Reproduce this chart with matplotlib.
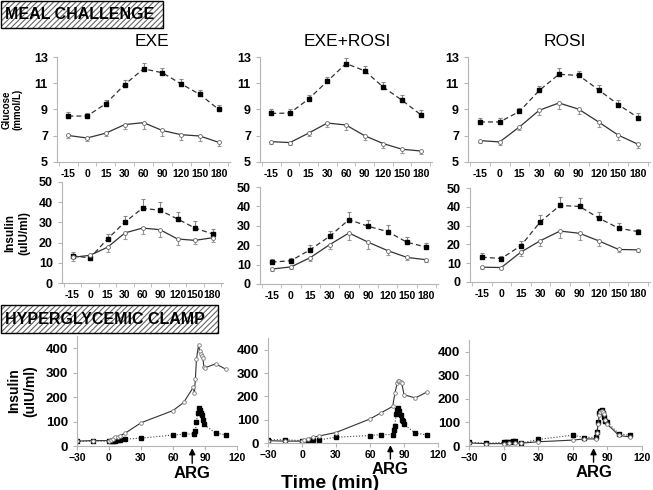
import numpy as np
import matplotlib
matplotlib.use('Agg')
import matplotlib.pyplot as plt
from matplotlib.patches import Rectangle

plt.rcParams['font.family'] = ['Liberation Sans', 'DejaVu Sans']
plt.rcParams['hatch.linewidth'] = 0.8

# meal challenge time points (categorical axis)
meal_times = ['-15', '0', '15', '30', '60', '90', '120', '150', '180']
groups = ['EXE', 'EXE+ROSI', 'ROSI']

# glucose (mmol/L): dashed = baseline, solid = treatment
glu_base = {
    'EXE':      [8.5, 8.5, 9.45, 10.9, 12.1, 11.8, 10.95, 10.15, 9.0],
    'EXE+ROSI': [8.7, 8.73, 9.8, 11.15, 12.5, 11.95, 10.7, 9.7, 8.6],
    'ROSI':     [8.05, 8.05, 8.85, 10.45, 11.68, 11.6, 10.5, 9.37, 8.38],
}
glu_base_err = {
    'EXE':      [0.28, 0.25, 0.3, 0.35, 0.45, 0.35, 0.4, 0.35, 0.35],
    'EXE+ROSI': [0.3, 0.28, 0.3, 0.35, 0.4, 0.35, 0.4, 0.4, 0.35],
    'ROSI':     [0.3, 0.3, 0.3, 0.35, 0.45, 0.35, 0.35, 0.35, 0.35],
}
glu_treat = {
    'EXE':      [7.02, 6.83, 7.2, 7.85, 8.0, 7.4, 7.08, 6.98, 6.5],
    'EXE+ROSI': [6.55, 6.48, 7.2, 7.97, 7.82, 7.0, 6.4, 5.97, 5.84],
    'ROSI':     [6.63, 6.53, 7.67, 8.94, 9.5, 9.02, 8.05, 7.04, 6.35],
}
glu_treat_err = {
    'EXE':      [0.2, 0.2, 0.2, 0.3, 0.45, 0.4, 0.4, 0.35, 0.25],
    'EXE+ROSI': [0.2, 0.2, 0.25, 0.3, 0.4, 0.35, 0.35, 0.3, 0.2],
    'ROSI':     [0.2, 0.2, 0.25, 0.35, 0.45, 0.4, 0.35, 0.35, 0.25],
}

# meal insulin (uIU/ml)
ins_base = {
    'EXE':      [13.5, 12.4, 21.8, 30.2, 37.0, 36.0, 31.7, 27.2, 24.3],
    'EXE+ROSI': [11.3, 12.0, 17.7, 24.6, 33.2, 29.7, 27.0, 21.5, 19.0],
    'ROSI':     [13.2, 12.5, 19.3, 32.1, 40.7, 40.2, 33.9, 28.6, 26.8],
}
ins_base_err = {
    'EXE':      [2.0, 1.0, 2.5, 3.0, 4.5, 4.0, 3.5, 3.5, 2.5],
    'EXE+ROSI': [1.5, 1.5, 2.5, 2.5, 4.0, 3.5, 3.5, 2.5, 2.0],
    'ROSI':     [2.0, 1.5, 2.5, 3.5, 4.5, 4.5, 3.5, 3.0, 1.5],
}
ins_treat = {
    'EXE':      [12.7, 13.7, 17.7, 24.8, 27.2, 26.4, 21.8, 21.1, 22.4],
    'EXE+ROSI': [7.7, 8.8, 13.6, 20.3, 26.3, 21.5, 17.2, 13.7, 12.5],
    'ROSI':     [7.9, 7.7, 15.9, 22.0, 27.1, 25.9, 21.8, 17.3, 17.1],
}
ins_treat_err = {
    'EXE':      [2.0, 1.0, 2.5, 3.0, 3.0, 3.5, 3.0, 2.0, 2.0],
    'EXE+ROSI': [1.0, 1.0, 2.0, 2.5, 3.5, 3.5, 2.5, 1.5, 1.0],
    'ROSI':     [1.0, 1.0, 2.0, 3.0, 3.5, 3.5, 2.5, 1.5, 1.0],
}

# hyperglycemic clamp insulin (uIU/ml)
clamp_treat_t = {
    'EXE':      [-30, -15, 0, 2, 4, 6, 8, 10, 15, 30, 60, 70, 79, 80, 81, 82, 84, 85, 86, 87, 88, 89, 90, 100, 110],
    'EXE+ROSI': [-30, -15, 0, 2, 5, 10, 15, 30, 60, 70, 80, 82, 84, 85, 86, 87, 88, 90, 100, 110],
    'ROSI':     [-30, -15, 0, 5, 10, 15, 30, 60, 70, 80, 81, 82, 83, 84, 85, 86, 87, 88, 90, 100, 110],
}
clamp_treat = {
    'EXE':      [20, 22, 22, 25, 30, 35, 38, 42, 52, 95, 145, 178, 240, 216, 275, 356, 413, 390, 377, 370, 360, 322, 320, 336, 313],
    'EXE+ROSI': [10, 8, 8, 12, 18, 25, 30, 45, 103, 130, 157, 214, 257, 265, 267, 262, 257, 207, 193, 218],
    'ROSI':     [13, 10, 10, 12, 12, 12, 18, 25, 30, 30, 55, 95, 130, 145, 148, 145, 135, 110, 92, 45, 38],
}
clamp_base_t = {
    'EXE':      [-30, -15, 0, 2, 4, 6, 8, 10, 15, 30, 60, 70, 80, 81, 82, 83, 84, 85, 86, 87, 88, 89, 100, 110],
    'EXE+ROSI': [-30, -15, 0, 5, 10, 15, 30, 60, 70, 80, 81, 82, 83, 84, 85, 86, 87, 88, 89, 90, 100, 110],
    'ROSI':     [-30, -15, 0, 2, 4, 6, 8, 10, 15, 30, 60, 70, 80, 81, 82, 83, 84, 85, 86, 87, 88, 90, 100, 110],
}
clamp_base = {
    'EXE':      [20, 20, 20, 20, 22, 22, 23, 25, 28, 32, 45, 48, 50, 62, 98, 133, 155, 148, 135, 125, 105, 88, 53, 45],
    'EXE+ROSI': [14, 14, 10, 10, 12, 13, 25, 32, 36, 36, 55, 75, 125, 142, 148, 138, 120, 100, 95, 80, 42, 35],
    'ROSI':     [15, 12, 15, 16, 17, 18, 20, 20, 12, 28, 46, 36, 37, 60, 100, 140, 150, 152, 140, 125, 105, 100, 52, 45],
}
arg_time = 78

W, H = 653, 490
fig = plt.figure(figsize=(W / 100, H / 100), dpi=100)


def add_ax(l, r, t, b):
    return fig.add_axes([l / W, 1 - b / H, (r - l) / W, (b - t) / H])


def style(ax):
    for s in ['top', 'right']:
        ax.spines[s].set_visible(False)
    for s in ['left', 'bottom']:
        ax.spines[s].set_color('#b5b5b5')
        ax.spines[s].set_linewidth(0.8)
    ax.tick_params(colors='#b5b5b5', labelcolor='black', width=0.8, length=3)


def meal_panel(ax, base, base_err, treat, treat_err, ylim, yticks, ysize):
    x = np.arange(len(meal_times))
    style(ax)
    z = np.zeros(len(x))
    ax.errorbar(x, base, yerr=[z, base_err], fmt='none', ecolor='#888888',
                elinewidth=0.8, capsize=1.2, capthick=0.8)
    ax.errorbar(x, treat, yerr=[treat_err, z], fmt='none', ecolor='#999999',
                elinewidth=0.8, capsize=1.2, capthick=0.8)
    ax.plot(x, base, color='#333333', lw=0.9, dashes=(4, 2.5), marker='s', ms=2.4,
            mfc='black', mec='black')
    ax.plot(x, treat, color='#333333', lw=0.9, marker='o', ms=2.8,
            mfc='white', mec='#666666', mew=0.6)
    ax.set_xlim(-0.6, 8.6)
    ax.set_ylim(*ylim)
    ax.set_yticks(yticks)
    ax.set_xticks(x)
    ax.set_xticklabels(meal_times, fontsize=7.5, fontweight='bold')
    ax.set_xticks(np.arange(-0.5, 9, 1), minor=True)
    ax.tick_params(axis='x', which='major', length=0, pad=5)
    ax.tick_params(axis='x', which='minor', length=3, color='#b5b5b5')
    for lab in ax.get_yticklabels():
        lab.set_fontsize(ysize)
        lab.set_fontweight('bold')


def clamp_panel(ax, g):
    style(ax)
    ax.plot(clamp_base_t[g], clamp_base[g], color='#444444', lw=0.8, ls=':',
            marker='s', ms=2.3, mfc='black', mec='black')
    ax.plot(clamp_treat_t[g], clamp_treat[g], color='#333333', lw=0.8,
            marker='o', ms=2.6, mfc='white', mec='#777777', mew=0.6)
    ax.set_xlim(-30, 120)
    ax.set_ylim(0, 450)
    ax.set_xticks([-30, 0, 30, 60, 90, 120])
    ax.set_yticks([0, 100, 200, 300, 400])
    ax.tick_params(axis='x', pad=2)
    for lab in ax.get_xticklabels():
        lab.set_fontsize(7.5)
        lab.set_fontweight('bold')
    for lab in ax.get_yticklabels():
        lab.set_fontsize(9.5)
        lab.set_fontweight('bold')
    ax.annotate('ARG', xy=(arg_time, -0.02), xycoords=ax.get_xaxis_transform(),
                xytext=(arg_time, -0.25), textcoords=ax.get_xaxis_transform(),
                ha='center', va='center', fontsize=12, fontweight='bold',
                arrowprops=dict(arrowstyle='-|>', color='black', lw=1,
                                mutation_scale=9, shrinkA=0, shrinkB=0))


glu_pos = [(57, 230, 57, 162), (260, 432, 57, 162), (468, 650, 57, 162)]
ins_pos = [(62, 223, 182, 283), (260, 438, 187, 284), (470, 650, 188, 282)]
clamp_pos = [(77, 237, 336, 446), (268, 438, 338, 443), (469, 642, 340, 446)]
title_x = [152, 347, 565]

for i, g in enumerate(groups):
    ax = add_ax(*glu_pos[i])
    meal_panel(ax, glu_base[g], glu_base_err[g], glu_treat[g], glu_treat_err[g],
               (5, 13), [5, 7, 9, 11, 13], 9)
    fig.text(title_x[i] / W, 1 - 41 / H, g, ha='center', va='center', fontsize=12.5)
    if i == 0:
        ax.set_ylabel('Glucose\n(mmol/L)', fontsize=7, fontweight='bold', labelpad=8)

    ax = add_ax(*ins_pos[i])
    meal_panel(ax, ins_base[g], ins_base_err[g], ins_treat[g], ins_treat_err[g],
               (0, 50), [0, 10, 20, 30, 40, 50], 9)
    if i == 0:
        ax.set_ylabel('Insulin\n(uIU/ml)', fontsize=8.5, fontweight='bold', labelpad=6)

    ax = add_ax(*clamp_pos[i])
    clamp_panel(ax, g)
    if i == 0:
        ax.set_ylabel('Insulin\n(uIU/ml)', fontsize=10, fontweight='bold', labelpad=6)

fig.text(330 / W, 1 - 483 / H, 'Time (min)', ha='center', va='center',
         fontsize=14, fontweight='bold')


def header(text, x0, y0, x1, y1):
    r = Rectangle((x0 / W, 1 - y1 / H), (x1 - x0) / W, (y1 - y0) / H,
                  transform=fig.transFigure, facecolor='white',
                  edgecolor='#666666', hatch='//////', lw=0)
    fig.patches.append(r)
    fig.patches.append(Rectangle((x0 / W, 1 - y1 / H), (x1 - x0) / W, (y1 - y0) / H,
                                 transform=fig.transFigure, fill=False,
                                 edgecolor='black', lw=1))
    fig.text((x0 + 4) / W, 1 - (y0 + y1) / 2 / H, text, ha='left', va='center',
             fontsize=11.5, fontweight='bold')


header('MEAL CHALLENGE', 1, 1, 163, 28)
header('HYPERGLYCEMIC CLAMP', 1, 305, 218, 333)

fig.savefig('out.png', dpi=100)
